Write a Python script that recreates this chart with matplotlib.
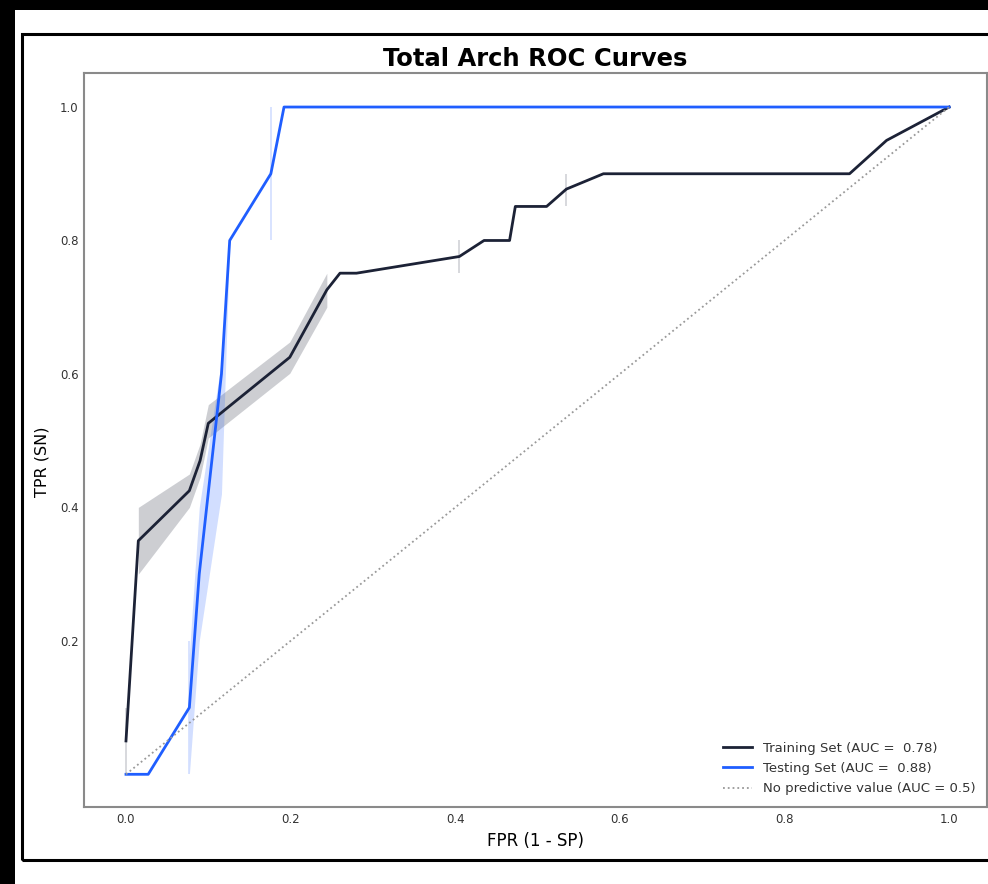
import matplotlib
matplotlib.use("Agg")
import matplotlib.pyplot as plt
from matplotlib.patches import Rectangle

# ---- data ----
train_fpr = [0.0, 0.015, 0.077, 0.090, 0.100, 0.199, 0.244, 0.260, 0.280, 0.405,
             0.435, 0.466, 0.473, 0.511, 0.535, 0.580, 0.879, 0.924, 1.0]
train_tpr = [0.05, 0.35, 0.425, 0.47, 0.526, 0.625, 0.726, 0.751, 0.751, 0.776,
             0.80, 0.80, 0.851, 0.851, 0.877, 0.90, 0.90, 0.95, 1.0]
train_band_x = [0.015, 0.077, 0.090, 0.100, 0.199, 0.244]
train_band_lo = [0.30, 0.40, 0.445, 0.504, 0.601, 0.700]
train_band_hi = [0.40, 0.45, 0.495, 0.554, 0.648, 0.751]
train_tie_x = [0.0, 0.405, 0.535]
train_tie_lo = [0.0, 0.751, 0.851]
train_tie_hi = [0.10, 0.80, 0.90]

test_fpr = [0.0, 0.027, 0.077, 0.089, 0.116, 0.126, 0.176, 0.192, 1.0]
test_tpr = [0.0, 0.0, 0.10, 0.30, 0.60, 0.80, 0.90, 1.0, 1.0]
test_band_x = [0.077, 0.089, 0.116, 0.126]
test_band_lo = [0.0, 0.20, 0.42, 0.80]
test_band_hi = [0.18, 0.40, 0.62, 0.80]
test_tie_x = [0.077, 0.176]
test_tie_lo = [0.0, 0.80]
test_tie_hi = [0.20, 1.0]

chance = [0.0, 1.0]

labels = ["Training Set (AUC =  0.78)", "Testing Set (AUC =  0.88)",
          "No predictive value (AUC = 0.5)"]
xticks = [0.0, 0.2, 0.4, 0.6, 0.8, 1.0]
yticks = [0.2, 0.4, 0.6, 0.8, 1.0]

navy = "#1c2236"
blue = "#1f5eff"

plt.rcParams['font.family'] = ['DejaVu Sans']

fig = plt.figure(figsize=(9.88, 8.84), dpi=100)
fig.patch.set_facecolor("white")
# screenshot black margins and outer frame
fig.add_artist(Rectangle((0, 0), 15/988, 1, transform=fig.transFigure,
                         facecolor="black", edgecolor="none", zorder=-5))
fig.add_artist(Rectangle((0, 1 - 10/884), 1, 10/884, transform=fig.transFigure,
                         facecolor="black", edgecolor="none", zorder=-5))
fig.add_artist(Rectangle((22/988, (884-860)/884), 1.0, (860-34)/884,
                         transform=fig.transFigure, facecolor="none",
                         edgecolor="black", linewidth=2.2, zorder=-4))

ax = fig.add_axes([84/988, (884-807)/884, (987-84)/988, (807-73)/884])

ax.fill_between(train_band_x, train_band_lo, train_band_hi, color=navy, alpha=0.22, linewidth=0)
ax.vlines(train_tie_x, train_tie_lo, train_tie_hi, color=navy, alpha=0.2, linewidth=1.2)
ax.fill_between(test_band_x, test_band_lo, test_band_hi, color=blue, alpha=0.2, linewidth=0)
ax.vlines(test_tie_x, test_tie_lo, test_tie_hi, color=blue, alpha=0.2, linewidth=1.2)

ax.plot(train_fpr, train_tpr, color=navy, linewidth=2.0, label=labels[0])
ax.plot(test_fpr, test_tpr, color=blue, linewidth=2.0, label=labels[1])
ax.plot(chance, chance, color="#999999", linestyle=":", linewidth=1.3, label=labels[2])

ax.set_xlim(-0.051, 1.046)
ax.set_ylim(-0.049, 1.051)
ax.set_xticks(xticks)
ax.set_yticks(yticks)
ax.set_xticklabels([f"{v:.1f}" for v in xticks])
ax.set_yticklabels([f"{v:.1f}" for v in yticks])
ax.tick_params(length=0, labelsize=8.5, labelcolor="#333333", pad=4)
for s in ax.spines.values():
    s.set_color("#8a8a8a")
    s.set_linewidth(1.5)

ax.set_xlabel("FPR (1 - SP)", fontsize=12, labelpad=5)
ax.set_ylabel("TPR (SN)", fontsize=11.5, labelpad=8)
ax.yaxis.set_label_coords(-0.038, 0.47)
ax.set_title("Total Arch ROC Curves", fontsize=17.5, fontweight="bold", pad=5)

leg = ax.legend(loc="lower right", frameon=False, fontsize=9.5, handlelength=2.2,
                labelspacing=0.55, borderaxespad=0.5)
for t in leg.get_texts():
    t.set_color("#333333")

fig.savefig("out.png", dpi=100, facecolor="white")
